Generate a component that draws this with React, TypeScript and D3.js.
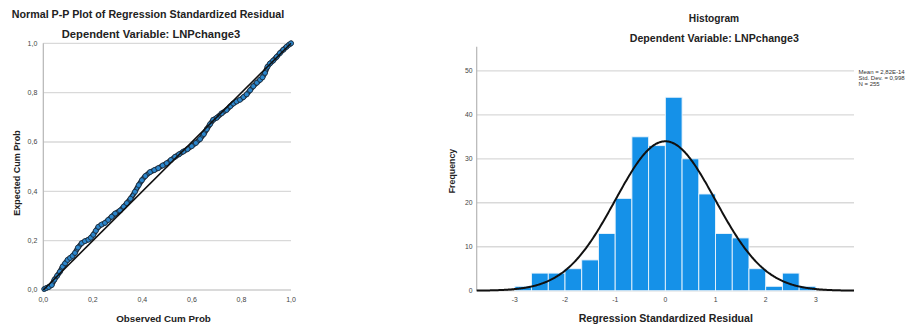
import React from "react";
import * as d3 from "d3";

// ---------- P-P plot data (observed vs expected cumulative probability) ----------
const ppObserved = [
  0.004, 0.012, 0.022, 0.034, 0.045, 0.056, 0.067, 0.078, 0.088, 0.098,
  0.108, 0.118, 0.128, 0.14, 0.155, 0.168, 0.182, 0.192, 0.202, 0.212,
  0.222, 0.235, 0.249, 0.262, 0.276, 0.29, 0.31, 0.325, 0.337, 0.352,
  0.37, 0.385, 0.398, 0.412, 0.431, 0.448, 0.464, 0.482, 0.498, 0.515,
  0.532, 0.548, 0.565, 0.582, 0.599, 0.616, 0.633, 0.648, 0.66, 0.673,
  0.686, 0.7, 0.72, 0.74, 0.755, 0.767, 0.78, 0.794, 0.808, 0.821,
  0.835, 0.848, 0.862, 0.875, 0.885, 0.895, 0.905, 0.915, 0.928, 0.942,
  0.955, 0.969, 0.982, 0.993, 1.0,
];
const ppExpected = [
  0.004, 0.008, 0.012, 0.02, 0.042, 0.058, 0.074, 0.095, 0.108, 0.122,
  0.13, 0.138, 0.15, 0.172, 0.19, 0.198, 0.204, 0.212, 0.224, 0.24,
  0.256, 0.265, 0.272, 0.284, 0.297, 0.31, 0.322, 0.338, 0.352, 0.37,
  0.398, 0.425, 0.445, 0.462, 0.478, 0.486, 0.494, 0.505, 0.514, 0.527,
  0.54, 0.55, 0.561, 0.571, 0.583, 0.596, 0.612, 0.632, 0.652, 0.672,
  0.69, 0.698, 0.716, 0.73, 0.745, 0.756, 0.764, 0.771, 0.782, 0.793,
  0.81, 0.826, 0.84, 0.852, 0.862, 0.88, 0.905, 0.918, 0.93, 0.945,
  0.96, 0.974, 0.986, 0.995, 1.0,
];
const ppTicks = [0, 0.2, 0.4, 0.6, 0.8, 1.0];

// ---------- Histogram data ----------
const binStart = -3;
const binWidth = 1 / 3;
const binCounts = [1, 4, 4, 5, 7, 13, 21, 35, 33, 44, 30, 22, 13, 12, 5, 1, 4, 1];
const histXTicks = [-3, -2, -1, 0, 1, 2, 3];
const histYTicks = [0, 10, 20, 30, 40, 50];
const residMean = 2.82e-14;
const residSd = 0.998;
const residN = 255;
const legendLines = ["Mean = 2,82E-14", "Std. Dev. = 0,998", "N = 255"];

const FONT = "'Liberation Sans', Arial, sans-serif";
const GRID = "#d9d9d9";
const AXIS = "#b5b5b5";
const TICK_TEXT = "#444";
const BAR_BLUE = "#1591e8";
const POINT_BLUE = "#2b86cc";
const POINT_EDGE = "#1c2836";

const fmtComma = (v: number) => d3.format(".1f")(v).replace(".", ",");

function PPPlot() {
  const x = d3.scaleLinear().domain([0, 1]).range([43.3, 291]);
  const y = d3.scaleLinear().domain([0, 1]).range([290, 43.3]);
  const pts = ppObserved.map((o, i) => [o, ppExpected[i]] as [number, number]);
  const line = d3
    .line<[number, number]>()
    .x((d) => x(d[0]))
    .y((d) => y(d[1]));

  return (
    <g>
      <text x={148} y={17.5} textAnchor="middle" fontFamily={FONT} fontWeight="bold" fontSize={10.7} fill="#222">
        Normal P-P Plot of Regression Standardized Residual
      </text>
      <text x={151} y={37.5} textAnchor="middle" fontFamily={FONT} fontWeight="bold" fontSize={11.2} fill="#222">
        Dependent Variable: LNPchange3
      </text>
      {ppTicks
        .filter((t) => t > 0)
        .map((t) => (
          <line key={"g" + t} x1={x(0)} x2={x(1)} y1={y(t)} y2={y(t)} stroke={GRID} strokeWidth={1.3} />
        ))}
      <line x1={x(0)} x2={x(0)} y1={y(0)} y2={y(1)} stroke={AXIS} strokeWidth={1.2} />
      <line x1={x(0)} x2={x(1)} y1={y(0)} y2={y(0)} stroke={AXIS} strokeWidth={1.2} />
      {ppTicks.map((t) => (
        <text key={"yt" + t} x={x(0) - 6} y={y(t) + 2.4} textAnchor="end" fontFamily={FONT} fontSize={7} fill={TICK_TEXT}>
          {fmtComma(t)}
        </text>
      ))}
      {ppTicks.map((t) => (
        <text key={"xt" + t} x={x(t)} y={301.5} textAnchor="middle" fontFamily={FONT} fontSize={7} fill={TICK_TEXT}>
          {fmtComma(t)}
        </text>
      ))}
      <text x={163.5} y={321.5} textAnchor="middle" fontFamily={FONT} fontWeight="bold" fontSize={9.8} fill="#222">
        Observed Cum Prob
      </text>
      <text
        transform="translate(19.5,173) rotate(-90)"
        textAnchor="middle"
        fontFamily={FONT}
        fontWeight="bold"
        fontSize={9}
        fill="#222"
      >
        Expected Cum Prob
      </text>
      {/* observed points */}
      <path d={line(pts) ?? ""} fill="none" stroke={POINT_EDGE} strokeWidth={5.2} strokeLinejoin="round" strokeLinecap="round" />
      <path d={line(pts) ?? ""} fill="none" stroke={POINT_BLUE} strokeWidth={2.4} strokeLinejoin="round" strokeLinecap="round" />
      {pts.map((p, i) => (
        <circle key={i} cx={x(p[0])} cy={y(p[1])} r={2.5} fill={POINT_BLUE} stroke={POINT_EDGE} strokeWidth={0.8} />
      ))}
      {/* normal reference diagonal */}
      <line x1={x(0)} y1={y(0)} x2={x(1)} y2={y(1)} stroke="#111" strokeWidth={1.6} />
    </g>
  );
}

function Histogram() {
  const x = d3.scaleLinear().domain([-3.76, 3.76]).range([476.7, 854]);
  const y = d3.scaleLinear().domain([0, 55.5]).range([290.7, 46.7]);
  const norm = (v: number) =>
    ((residN * binWidth) / (residSd * Math.sqrt(2 * Math.PI))) *
    Math.exp(-0.5 * ((v - residMean) / residSd) ** 2);
  const curveXs = d3.range(-3.76, 3.7601, 0.02);
  const curve = d3
    .line<number>()
    .x((v) => x(v))
    .y((v) => y(norm(v)))
    .curve(d3.curveBasis);

  return (
    <g>
      <text x={714} y={22.3} textAnchor="middle" fontFamily={FONT} fontWeight="bold" fontSize={10.2} fill="#222">
        Histogram
      </text>
      <text x={714.3} y={41.7} textAnchor="middle" fontFamily={FONT} fontWeight="bold" fontSize={10.6} fill="#222">
        Dependent Variable: LNPchange3
      </text>
      {histYTicks
        .filter((t) => t > 0)
        .map((t) => (
          <line key={"g" + t} x1={x(-3.76)} x2={x(3.76)} y1={y(t)} y2={y(t)} stroke={GRID} strokeWidth={1.3} />
        ))}
      <line x1={x(-3.76)} x2={x(-3.76)} y1={y(0)} y2={y(55.5)} stroke={AXIS} strokeWidth={1.2} />
      <line x1={x(-3.76)} x2={x(3.76)} y1={y(0)} y2={y(0)} stroke={AXIS} strokeWidth={1.2} />
      {binCounts.map((c, i) => {
        const lo = binStart + i * binWidth;
        const hi = lo + binWidth;
        return (
          <rect
            key={i}
            x={x(lo)}
            y={y(c)}
            width={x(hi) - x(lo)}
            height={y(0) - y(c)}
            fill={BAR_BLUE}
            stroke="#eaf4fc"
            strokeWidth={0.9}
          />
        );
      })}
      <path d={curve(curveXs) ?? ""} fill="none" stroke="#111" strokeWidth={2} />
      {histYTicks.map((t) => (
        <text key={"yt" + t} x={472.5} y={y(t) + 2.3} textAnchor="end" fontFamily={FONT} fontSize={6.8} fill={TICK_TEXT}>
          {t}
        </text>
      ))}
      {histXTicks.map((t) => (
        <text key={"xt" + t} x={x(t)} y={302} textAnchor="middle" fontFamily={FONT} fontSize={6.8} fill={TICK_TEXT}>
          {t}
        </text>
      ))}
      <text x={665.8} y={321.7} textAnchor="middle" fontFamily={FONT} fontWeight="bold" fontSize={10.6} fill="#222">
        Regression Standardized Residual
      </text>
      <text
        transform="translate(454.5,171) rotate(-90)"
        textAnchor="middle"
        fontFamily={FONT}
        fontWeight="bold"
        fontSize={8.8}
        fill="#222"
      >
        Frequency
      </text>
      {legendLines.map((s, i) => (
        <text key={s} x={858.5} y={73.5 + i * 6.2} fontFamily={FONT} fontSize={6} fill="#333">
          {s}
        </text>
      ))}
    </g>
  );
}

export default function App() {
  return (
    <svg
      width={914}
      height={327}
      viewBox="0 0 914 327"
      style={{ position: "absolute", left: 0, top: 0, background: "#fff" }}
    >
      <rect width={914} height={327} fill="#fff" />
      <PPPlot />
      <Histogram />
    </svg>
  );
}
